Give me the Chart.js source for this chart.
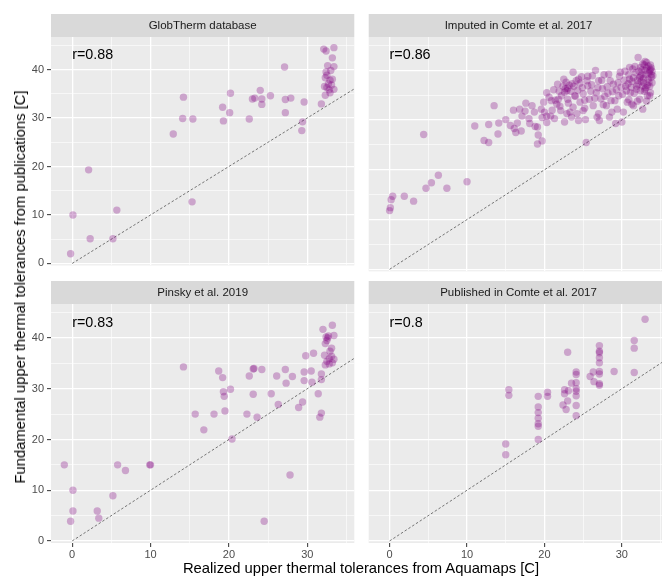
<!DOCTYPE html>
<html>
<head>
<meta charset="utf-8">
<script src="https://cdn.jsdelivr.net/npm/chart.js@4.4.1/dist/chart.umd.min.js"></script>
<style>
  html, body { margin: 0; padding: 0; background: #fff; overflow: hidden; }
  #wrap { position: relative; width: 662px; height: 576px; overflow: hidden; }
  canvas { position: absolute; }
  .title { position: absolute; font-family: "Liberation Sans", Arial, sans-serif; font-size: 14.8px; color: #000; white-space: nowrap; }
</style>
</head>
<body>
<div id="wrap">
  <canvas id="c-glob" style="left:0px;top:14px" width="358" height="261"></canvas>
  <canvas id="c-imp" style="left:365px;top:14px" width="307" height="261"></canvas>
  <canvas id="c-pinsky" style="left:0px;top:281px" width="358" height="280"></canvas>
  <canvas id="c-pub" style="left:365px;top:281px" width="307" height="280"></canvas>
  <div class="title" id="xtitle" style="left:361px;top:560px;transform:translateX(-50%)">Realized upper thermal tolerances from Aquamaps [C]</div>
  <div class="title" id="ytitle" style="left:20px;top:287px;transform:translate(-50%,-50%) rotate(-90deg)">Fundamental upper thermal tolerances from publications [C]</div>
</div>
<script>
// ---- data ----
const panelNames = ['GlobTherm database', 'Imputed in Comte et al. 2017', 'Pinsky et al. 2019', 'Published in Comte et al. 2017'];
const rValues = ['r=0.88', 'r=0.86', 'r=0.83', 'r=0.8'];

const xTicks = [0, 5, 10, 15, 20, 25, 30, 35];
const yTicks = [0, 5, 10, 15, 20, 25, 30, 35, 40, 45];
const refLine = [0, 40]; // y = x

const globX = [-0.2, 0.1, 2.1, 2.3, 5.2, 5.7, 12.9, 14.2, 14.1, 15.4, 15.3, 19.2, 19.3, 20.1, 20.2, 22.6, 23.0, 23.3, 24.0, 24.2, 24.2, 25.3, 27.1, 27.2, 27.2, 27.9, 29.4, 29.3, 29.6, 31.8,
  32.1, 32.4, 33.4, 33.2, 32.6, 33.4, 33.0, 32.4, 32.3, 32.5, 32.9, 33.2, 32.2, 32.5, 32.8, 32.9, 33.4, 32.3, 33.1, 32.7];
const globY = [2.0, 10.0, 19.3, 5.1, 5.1, 11.0, 26.7, 34.3, 29.9, 29.8, 12.7, 32.2, 29.4, 31.1, 35.1, 29.8, 33.9, 34.1, 35.7, 33.9, 32.8, 34.6, 40.5, 33.8, 31.1, 34.1, 29.2, 27.4, 33.3, 32.9,
  44.2, 43.8, 44.5, 42.4, 40.8, 40.6, 39.8, 39.5, 38.3, 38.8, 37.8, 38.0, 36.5, 36.3, 35.8, 35.2, 35.9, 34.7, 36.8, 37.0];

const impX = [0.0, 0.1, 0.2, 0.4, 1.9, 3.1, 4.7, 5.4, 6.3, 7.4, 10.0, 4.4, 11.0, 12.2, 12.8, 12.8, 14.0, 14.1, 13.5, 15.0,
  15.6, 16.1, 16.3, 17.0, 16.8, 17.1, 17.6, 18.0, 18.4, 18.8, 19.1, 19.2, 19.1, 19.7, 19.6, 19.7, 20.3, 20.3, 20.3, 20.8,
  21.0, 21.4, 21.8, 22.1, 22.5, 22.6, 22.7, 22.9, 23.0, 23.3, 23.5, 23.7, 23.9, 24.2, 24.4, 24.6, 24.8, 25.0, 25.2, 25.3,
  25.4, 25.6, 25.8, 26.1, 26.3, 26.6, 26.7, 27.0, 27.1, 27.3, 27.5, 27.7, 28.0, 28.2, 28.4, 28.6, 28.9, 29.2, 29.4, 29.6,
  29.8, 30.0, 30.2, 30.5, 30.7, 30.9, 31.1, 31.3, 31.5, 31.7, 31.9, 32.1, 32.3, 32.4, 32.6, 32.7, 32.8, 32.9, 33.0, 33.1,
  33.2, 33.3, 33.4, 33.5, 33.6, 33.7, 33.8, 33.9, 33.8, 33.7,
  31.5, 31.8, 32.0, 32.2, 32.4, 32.6, 32.8, 33.0, 33.2, 33.4, 33.6, 33.8, 33.5, 33.3, 33.1, 32.9, 32.7, 32.5, 32.3, 32.1,
  31.9, 31.6, 31.2, 31.0, 30.8, 30.6, 30.3, 30.1, 29.9, 29.5, 29.3, 28.8, 28.5, 28.1, 27.8, 27.4, 26.9, 26.5, 26.0, 25.6,
  25.2, 24.9, 24.6, 24.3, 24.1, 23.8, 23.6, 23.4, 23.2, 23.0, 22.8, 22.6, 22.4, 22.2, 21.9, 21.6, 21.2, 20.9, 20.6, 33.9,
  34.0, 33.7, 33.0, 32.7, 31.4, 31.0, 30.4, 29.7, 28.3, 27.0, 26.2, 25.5, 24.0, 23.1, 22.0, 21.7, 27.6, 28.7, 29.1, 30.9,
  31.3, 32.0, 33.6, 33.2, 32.4, 26.8, 25.0, 24.4, 23.7, 22.9, 21.3, 20.0, 19.9, 18.7, 18.1, 17.5, 16.5, 16.0];
const impY = [11.8, 12.4, 14.0, 14.7, 14.7, 13.7, 16.3, 17.4, 18.9, 16.3, 17.6, 27.1, 28.8, 25.9, 25.5, 29.1, 27.2, 29.4, 32.9, 30.1,
  28.9, 28.3, 27.5, 27.8, 32.2, 30.8, 33.4, 30.3, 32.9, 28.7, 28.6, 27.0, 25.2, 25.8, 32.2, 30.5, 29.5, 30.8, 35.5, 30.8,
  32.0, 34.0, 34.2, 31.9, 38.2, 29.6, 36.3, 35.9, 34.2, 31.6, 30.6, 39.6, 34.9, 31.3, 38.2, 33.6, 38.7, 35.3, 32.4, 30.1,
  25.5, 38.8, 34.2, 37.1, 32.9, 40.0, 35.5, 31.3, 29.9, 34.3, 36.3, 39.1, 32.9, 35.4, 30.6, 33.9, 37.2, 29.3, 32.2, 34.9,
  39.6, 29.6, 31.6, 36.8, 33.6, 39.1, 35.5, 37.8, 32.9, 40.8, 36.8, 42.6, 34.2, 38.8, 40.1, 32.2, 37.5, 41.1, 36.2, 39.1,
  40.5, 34.9, 38.2, 39.5, 36.8, 41.1, 39.1, 37.5, 40.5, 35.5,
  38.5, 39.5, 38.0, 39.8, 40.6, 39.2, 38.4, 40.0, 41.6, 40.9, 39.9, 38.6, 37.6, 37.0, 36.5, 35.8, 36.9, 37.8, 38.5, 37.2,
  36.2, 35.4, 36.6, 38.2, 37.3, 35.9, 38.0, 35.2, 36.6, 37.5, 36.1, 35.7, 37.9, 36.7, 34.8, 38.0, 36.5, 34.4, 35.8, 36.9,
  34.0, 36.5, 37.4, 36.0, 37.9, 36.8, 37.3, 35.8, 37.0, 36.4, 37.6, 35.6, 36.8, 34.9, 35.8, 33.2, 36.1, 33.9, 34.6, 39.8,
  38.9, 40.2, 41.8, 41.3, 40.3, 40.6, 39.8, 38.8, 39.2, 37.9, 38.9, 37.9, 34.8, 33.4, 32.8, 37.2, 33.1, 31.6, 33.9, 34.1,
  33.2, 33.8, 34.9, 33.8, 35.9, 30.6, 31.9, 29.9, 32.6, 31.3, 30.3, 31.6, 33.6, 31.6, 29.3, 31.8, 29.4, 32.0];

const pinskyX = [-1.0, 0.1, 0.1, -0.2, 3.2, 3.4, 5.2, 5.8, 6.8, 9.9, 10.0, 14.2, 15.7, 16.8, 18.1, 18.7, 19.2, 19.3, 19.4, 19.5,
  20.2, 20.4, 22.3, 22.6, 23.1, 23.2, 23.1, 23.6, 24.2, 24.5, 25.4, 26.1, 26.3, 27.2, 27.3, 27.8, 28.1, 28.9, 29.4, 29.6,
  29.6, 29.8, 30.5, 30.6, 30.8, 31.4, 31.6, 31.8, 31.8, 31.8, 32.0, 32.3, 32.4, 32.6, 32.7, 32.2, 32.3, 32.5, 32.8, 32.9,
  33.1, 33.2, 33.2, 33.4, 33.4, 33.1, 32.5, 32.8];
const pinskyY = [15.0, 10.0, 5.9, 3.9, 5.9, 4.5, 8.9, 15.0, 13.9, 15.0, 15.0, 34.3, 25.0, 21.9, 25.0, 33.5, 32.2, 29.4, 28.5, 25.6,
  29.9, 20.1, 25.0, 32.5, 33.9, 34.0, 28.9, 24.4, 33.8, 3.9, 29.0, 32.5, 26.9, 33.8, 31.1, 13.0, 32.4, 26.3, 27.4, 33.3,
  31.6, 36.5, 33.5, 31.3, 37.0, 29.0, 24.4, 25.2, 32.9, 31.8, 41.7, 38.9, 40.2, 40.0, 40.4, 36.6, 34.7, 35.4, 35.9, 37.4,
  38.0, 35.1, 42.5, 40.5, 35.8, 36.4, 39.5, 34.9];

const pubX = [15.0, 15.0, 15.4, 15.4, 19.2, 19.2, 19.2, 19.2, 19.2, 19.2, 19.2, 20.4, 20.4, 22.4, 22.6, 22.6, 22.8, 23.0, 23.0, 23.1,
  23.5, 24.1, 24.1, 24.1, 24.1, 24.1, 24.1, 24.1, 24.1, 25.9, 26.3, 26.4, 27.1, 27.1, 27.1, 27.1, 27.1, 27.1, 27.1, 27.1,
  27.1, 29.0, 31.6, 31.6, 31.6, 33.0];
const pubY = [19.1, 17.0, 29.8, 28.7, 28.5, 26.4, 25.3, 24.2, 23.1, 22.6, 20.0, 29.3, 28.5, 26.8, 29.8, 29.0, 25.9, 37.2, 27.6, 29.6,
  31.1, 33.3, 32.8, 31.2, 30.0, 29.5, 28.6, 26.7, 24.7, 32.4, 33.3, 31.4, 38.5, 37.4, 37.1, 36.1, 35.1, 33.4, 32.9, 31.0,
  30.7, 33.4, 39.5, 38.0, 33.2, 43.7];

// ---- styling ----
Chart.defaults.font.family = '"Liberation Sans", Arial, sans-serif';
const X_MIN = -2.7, X_MAX = 36.0, Y_MIN = -0.4, Y_MAX = 46.7;
const STRIP_H = 23;

// grey panel, facet strip and r= label
const panelPlugin = {
  id: 'panel',
  beforeDraw(chart) {
    const a = chart.chartArea, ctx = chart.ctx;
    const o = chart.options.plugins.panel;
    ctx.save();
    ctx.fillStyle = '#EBEBEB';
    ctx.fillRect(a.left, a.top, a.right - a.left, a.bottom - a.top);
    ctx.fillStyle = '#D9D9D9';
    ctx.fillRect(a.left, a.top - STRIP_H, a.right - a.left, STRIP_H);
    ctx.fillStyle = '#1A1A1A';
    ctx.font = '11.5px "Liberation Sans", Arial, sans-serif';
    ctx.textAlign = 'center';
    ctx.textBaseline = 'middle';
    ctx.fillText(o.strip, (a.left + a.right) / 2, a.top - STRIP_H / 2 + 0.5);
    ctx.restore();
  },
  afterDatasetsDraw(chart) {
    const o = chart.options.plugins.panel, ctx = chart.ctx;
    const x = chart.scales.x.getPixelForValue(0), y = chart.scales.y.getPixelForValue(43);
    ctx.save();
    ctx.fillStyle = '#000';
    ctx.font = '14.3px "Liberation Sans", Arial, sans-serif';
    ctx.textAlign = 'left';
    ctx.textBaseline = 'middle';
    ctx.fillText(o.r, x, y);
    ctx.restore();
  }
};

function gridOpts(showTicks) {
  return {
    color: '#FFFFFF',
    lineWidth: (c) => (c.tick && c.tick.value % 10 === 0 ? 1.3 : 0.6),
    drawTicks: showTicks,
    tickLength: 4,
    tickColor: (c) => (c.tick && c.tick.value % 10 === 0 ? '#333333' : 'rgba(0,0,0,0)'),
    tickWidth: 1
  };
}

function makePanel(id, idx, xs, ys, showX, showY) {
  const points = xs.map((v, i) => ({ x: v, y: ys[i] }));
  new Chart(document.getElementById(id), {
    type: 'scatter',
    data: {
      datasets: [{
        data: points,
        backgroundColor: 'rgba(128,0,128,0.3)',
        borderWidth: 0,
        pointRadius: 3.7,
        pointHoverRadius: 3.7
      }, {
        type: 'line',
        data: refLine.map(v => ({ x: v, y: v })),
        borderColor: '#555555',
        borderWidth: 0.8,
        borderDash: [2.5, 2],
        pointRadius: 0,
        fill: false,
        clip: 0
      }]
    },
    options: {
      responsive: false,
      animation: false,
      events: [],
      layout: { padding: { top: STRIP_H, left: 0, right: 0, bottom: 0 } },
      plugins: {
        legend: { display: false },
        tooltip: { enabled: false },
        panel: { strip: panelNames[idx], r: rValues[idx] }
      },
      scales: {
        x: {
          type: 'linear', min: X_MIN, max: X_MAX,
          afterBuildTicks: (s) => { s.ticks = xTicks.map(v => ({ value: v })); },
          afterFit: (s) => { s.height = showX ? 18 : 0; },
          border: { display: false },
          grid: gridOpts(showX),
          ticks: {
            display: showX, autoSkip: false, maxRotation: 0, padding: 1,
            color: '#4D4D4D', font: { size: 11 },
            callback: (v) => (v % 10 === 0 ? String(v) : '')
          }
        },
        y: {
          type: 'linear', min: Y_MIN, max: Y_MAX,
          afterBuildTicks: (s) => { s.ticks = yTicks.map(v => ({ value: v })); },
          afterFit: (s) => { s.width = showY ? 51 : 0; },
          border: { display: false },
          grid: gridOpts(showY),
          ticks: {
            display: showY, autoSkip: false, padding: 3,
            color: '#4D4D4D', font: { size: 11 },
            callback: (v) => (v % 10 === 0 ? String(v) : '')
          }
        }
      }
    },
    plugins: [panelPlugin]
  });
}

makePanel('c-glob', 0, globX, globY, false, true);
makePanel('c-imp', 1, impX, impY, false, false);
makePanel('c-pinsky', 2, pinskyX, pinskyY, true, true);
makePanel('c-pub', 3, pubX, pubY, true, false);
</script>
</body>
</html>
